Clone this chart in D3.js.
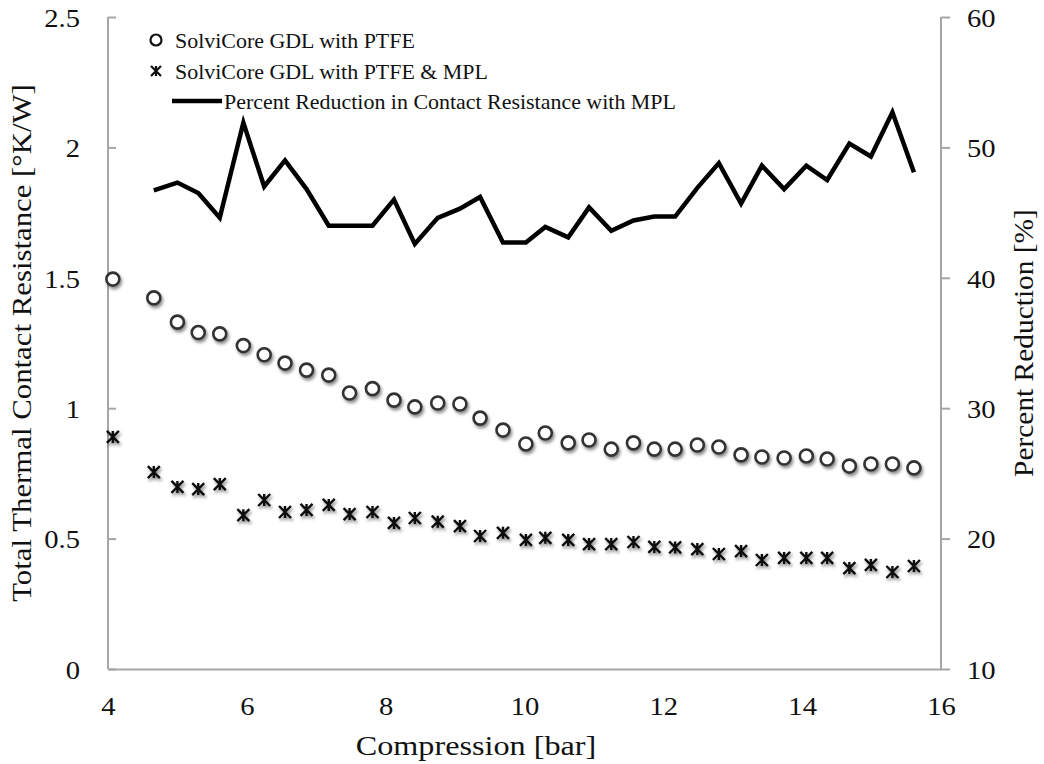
<!DOCTYPE html>
<html>
<head>
<meta charset="utf-8">
<script src="https://cdn.jsdelivr.net/npm/d3@7"></script>
<style>
  body { margin: 0; background: #fff; }
  svg { display: block; }
  text { font-family: "Liberation Serif", "DejaVu Serif", serif; fill: #111; }
</style>
</head>
<body>
<svg id="chart" width="1044" height="764"></svg>
<script>
// Compression pressure [bar] for each measurement
const compression = [4.07, 4.66, 5.0, 5.3, 5.61, 5.95, 6.25, 6.55, 6.86, 7.18, 7.48, 7.81, 8.12, 8.42, 8.75, 9.07, 9.36, 9.69, 10.02, 10.3, 10.63, 10.93, 11.25, 11.57, 11.87, 12.17, 12.49, 12.8, 13.12, 13.42, 13.74, 14.06, 14.36, 14.68, 14.99, 15.3, 15.61];
// Total thermal contact resistance [°K/W], GDL with PTFE
const resistancePTFE = [1.495, 1.423, 1.33, 1.29, 1.285, 1.24, 1.205, 1.173, 1.146, 1.127, 1.058, 1.075, 1.031, 1.005, 1.02, 1.016, 0.962, 0.916, 0.863, 0.905, 0.867, 0.878, 0.843, 0.867, 0.843, 0.843, 0.859, 0.851, 0.821, 0.813, 0.809, 0.817, 0.805, 0.778, 0.786, 0.786, 0.771];
// Total thermal contact resistance [°K/W], GDL with PTFE & MPL
const resistanceMPL = [0.89, 0.755, 0.698, 0.69, 0.709, 0.59, 0.648, 0.602, 0.61, 0.629, 0.594, 0.602, 0.56, 0.579, 0.565, 0.548, 0.51, 0.522, 0.495, 0.503, 0.495, 0.479, 0.479, 0.487, 0.468, 0.466, 0.46, 0.441, 0.452, 0.418, 0.426, 0.426, 0.426, 0.387, 0.399, 0.372, 0.395];
// Percent reduction in contact resistance with MPL (no value at the first pressure)
const percentReduction = [null, 46.7, 47.3, 46.5, 44.6, 51.9, 47.0, 49.0, 46.8, 44.0, 44.0, 44.0, 46.0, 42.6, 44.6, 45.3, 46.2, 42.7, 42.7, 43.9, 43.1, 45.4, 43.6, 44.4, 44.7, 44.7, 46.9, 48.8, 45.7, 48.6, 46.8, 48.6, 47.5, 50.3, 49.3, 52.7, 48.1];

const xTickValues = [4, 6, 8, 10, 12, 14, 16];
const leftTickValues = [0, 0.5, 1, 1.5, 2, 2.5];
const rightTickValues = [10, 20, 30, 40, 50, 60];
const legendLabels = ["SolviCore GDL with PTFE", "SolviCore GDL with PTFE & MPL", "Percent Reduction in Contact Resistance with MPL"];
const xTitle = "Compression [bar]";
const leftTitle = "Total Thermal Contact Resistance [°K/W]";
const rightTitle = "Percent Reduction [%]";

const svg = d3.select("#chart");
const plot = { left: 108, right: 941, top: 17, bottom: 669 };
const axisColor = "#a6a6a6";

const x = d3.scaleLinear().domain([4, 16]).range([plot.left, plot.right]);
const yL = d3.scaleLinear().domain([0, 2.5]).range([plot.bottom, plot.top]);
const yR = d3.scaleLinear().domain([10, 60]).range([plot.bottom, plot.top]);

// widen the serif glyphs a little so they sit like a Cambria-style face
function widen(sel, factor) {
  sel.each(function () {
    const len = this.getComputedTextLength();
    d3.select(this).attr("textLength", len * factor).attr("lengthAdjust", "spacingAndGlyphs");
  });
}

// soft shadow under the markers
const defs = svg.append("defs");
const shadow = defs.append("filter").attr("id", "markerShadow")
  .attr("x", "-60%").attr("y", "-60%").attr("width", "220%").attr("height", "220%");
shadow.append("feDropShadow").attr("dx", 1.5).attr("dy", 2.5)
  .attr("stdDeviation", 1.4).attr("flood-color", "#000").attr("flood-opacity", 0.45);

const tickFont = 26;
const tickWiden = 1.1;

// bottom axis
const xAxis = d3.axisBottom(x).tickValues(xTickValues).tickSize(0).tickPadding(0).tickFormat(d3.format("d"));
const gx = svg.append("g").attr("transform", `translate(0,${plot.bottom})`).call(xAxis);
gx.select(".domain").attr("stroke", axisColor).attr("stroke-width", 2);
gx.selectAll(".tick text").attr("font-size", tickFont).attr("dy", null).attr("y", 46)
  .style("font-family", '"Liberation Serif", serif').attr("fill", "#111").call(widen, tickWiden);

// left axis, ticks pointing into the plot
const yAxisL = d3.axisRight(yL).tickValues(leftTickValues).tickSize(8).tickPadding(0).tickFormat(d => String(d));
const gl = svg.append("g").attr("transform", `translate(${plot.left},0)`).call(yAxisL);
gl.select(".domain").attr("stroke", axisColor).attr("stroke-width", 2).attr("d", `M0,${plot.top}V${plot.bottom}`);
gl.selectAll(".tick line").attr("stroke", axisColor).attr("stroke-width", 2);
gl.selectAll(".tick text").attr("font-size", tickFont).attr("text-anchor", "end")
  .attr("x", -28).attr("dy", "0.36em").style("font-family", '"Liberation Serif", serif').attr("fill", "#111")
  .call(widen, tickWiden);

// right axis
const yAxisR = d3.axisRight(yR).tickValues(rightTickValues).tickSize(9).tickPadding(0).tickFormat(d3.format("d"));
const gr = svg.append("g").attr("transform", `translate(${plot.right},0)`).call(yAxisR);
gr.select(".domain").attr("stroke", axisColor).attr("stroke-width", 2).attr("d", `M0,${plot.top}V${plot.bottom}`);
gr.selectAll(".tick line").attr("stroke", axisColor).attr("stroke-width", 2);
gr.selectAll(".tick text").attr("font-size", tickFont).attr("text-anchor", "start")
  .attr("x", 26).attr("dy", "0.36em").style("font-family", '"Liberation Serif", serif').attr("fill", "#111")
  .call(widen, tickWiden);

// axis titles
const titleFont = 28;
svg.append("text").attr("x", 476).attr("y", 755).attr("text-anchor", "middle")
  .attr("font-size", titleFont).text(xTitle).call(widen, 1.15);
svg.append("text").attr("transform", `translate(31,${(plot.top + plot.bottom) / 2}) rotate(-90)`)
  .attr("text-anchor", "middle").attr("font-size", titleFont).text(leftTitle).call(widen, 1.1);
svg.append("text").attr("transform", `translate(1033,${(plot.top + plot.bottom) / 2}) rotate(-90)`)
  .attr("text-anchor", "middle").attr("font-size", titleFont).text(rightTitle).call(widen, 1.05);

const rows = compression.map((c, i) => ({ c, a: resistancePTFE[i], b: resistanceMPL[i], p: percentReduction[i] }));

// percent reduction line on the secondary axis
const line = d3.line().defined(d => d.p != null).x(d => x(d.c)).y(d => yR(d.p));
svg.append("path").datum(rows).attr("d", line)
  .attr("fill", "none").attr("stroke", "#000").attr("stroke-width", 4.5)
  .attr("stroke-linejoin", "miter");

// star marker: X with a vertical bar
const starPath = s => `M${-s},${-s}L${s},${s}M${-s},${s}L${s},${-s}M0,${-s}V${s}`;

svg.append("g").attr("filter", "url(#markerShadow)")
  .selectAll("circle").data(rows).join("circle")
  .attr("cx", d => x(d.c)).attr("cy", d => yL(d.a)).attr("r", 6.5)
  .attr("fill", "#fff").attr("stroke", "#333").attr("stroke-width", 2.6);

svg.append("g").attr("filter", "url(#markerShadow)")
  .selectAll("path").data(rows).join("path")
  .attr("transform", d => `translate(${x(d.c)},${yL(d.b)})`)
  .attr("d", starPath(6)).attr("fill", "none").attr("stroke", "#111").attr("stroke-width", 2.4);

// legend
const legend = svg.append("g");
const legendFont = 21.5;
const rowY = [40, 71, 101];
legend.append("circle").attr("cx", 156).attr("cy", rowY[0]).attr("r", 5.5)
  .attr("fill", "#fff").attr("stroke", "#111").attr("stroke-width", 2.2);
legend.append("path").attr("transform", `translate(156,${rowY[1]})`).attr("d", starPath(5))
  .attr("fill", "none").attr("stroke", "#111").attr("stroke-width", 2.2);
legend.append("line").attr("x1", 172).attr("x2", 222).attr("y1", rowY[2]).attr("y2", rowY[2])
  .attr("stroke", "#000").attr("stroke-width", 4.5);
legend.selectAll("text").data(legendLabels).join("text")
  .attr("x", (d, i) => i < 2 ? 175 : 224).attr("y", (d, i) => rowY[i]).attr("dy", "0.35em")
  .attr("font-size", legendFont).text(d => d).call(widen, 1.02);
</script>
</body>
</html>
